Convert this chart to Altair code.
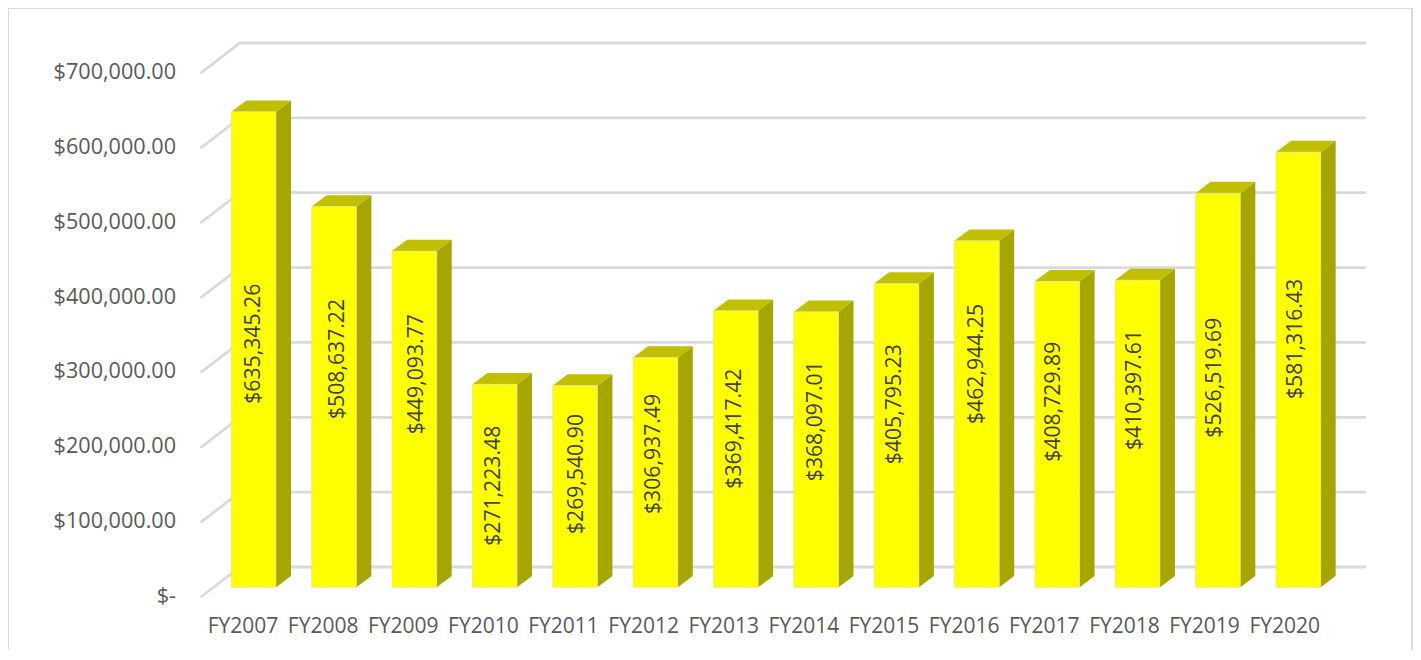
import altair as alt
import pandas as pd

years = ["FY2007","FY2008","FY2009","FY2010","FY2011","FY2012","FY2013",
         "FY2014","FY2015","FY2016","FY2017","FY2018","FY2019","FY2020"]
values = [635345.26,508637.22,449093.77,271223.48,269540.90,306937.49,369417.42,
          368097.01,405795.23,462944.25,408729.89,410397.61,526519.69,581316.43]
# where each rotated value label sits (the original labels are placed by hand)
label_at = [325400,305000,284700,135600,151300,178100,211900,
            221900,244600,298300,247900,263600,280000,331700]
label_nudge = [0.3,3.5,3,-0.3,2,-1,-0.7,-0.5,-1.4,0.3,-2.8,-2.5,-2.6,-2]
grid_values = [0,100000,200000,300000,400000,500000,600000,700000]

# projection geometry (pixels per unit), converted to data units
PX_X = 80.36
PX_Y = 74.86 / 100000
X0, Y0 = 231.3, 587.3            # page pixel of index 0 / value 0
L, T, R, B = 190, 30, 1400, 610  # plot rectangle on the page
TOTAL_R, TOTAL_B = 1413, 650

def ux(p): return p / PX_X
def uy(p): return p / PX_Y

BAR_W = ux(44.7)
DX, DY = ux(15), uy(11.3)

x_scale = alt.Scale(domain=[ux(L - X0), ux(R - X0)], nice=False, zero=False)
y_scale = alt.Scale(domain=[uy(Y0 - B), uy(Y0 - T)], nice=False, zero=False)

front, side, top, grid = [], [], [], []
for i, (n, v, la, nu) in enumerate(zip(years, values, label_at, label_nudge)):
    r = i + BAR_W
    front.append(dict(i=i, n=n, v=v, x=i, x2=r, y=v, y2=0, ly=la,
                      lx=i + BAR_W / 2 + ux(nu), t=f"${v:,.2f}"))
    side += [dict(n=n, x=r, y=v, y2=0), dict(n=n, x=r + DX, y=v + DY, y2=DY)]
    top += [dict(n=n, y=v, x=i, x2=r), dict(n=n, y=v + DY, x=i + DX, x2=r + DX)]
for g in grid_values:
    grid += [dict(g=g, o=0, x=ux(201.5 - X0), y=g - uy(9.2)),
             dict(g=g, o=1, x=ux(240 - X0), y=g + uy(20.3)),
             dict(g=g, o=2, x=ux(1365 - X0), y=g + uy(20.3))]

TICK_RATIO = 80.13 / PX_X
TICK_OFF = ux(11.2)
tick_vals = [TICK_OFF + i * TICK_RATIO for i in range(len(years))]
names_js = "[" + ",".join(f"'{n}'" for n in years) + "]"

FONT = "Open Sans"
TXT = "#595959"
GRID = "#dadada"

x_axis = alt.Axis(
    values=tick_vals, grid=False, domain=False, ticks=False, title=None,
    labelExpr=f"{names_js}[round((datum.value-{TICK_OFF})/{TICK_RATIO})]",
    labelFont=FONT, labelFontSize=21, labelColor=TXT, labelPadding=5,
    labelOverlap=False, labelBound=False, labelFlush=False, labelAngle=0)
y_axis = alt.Axis(
    values=grid_values, grid=False, domain=False, ticks=False, title=None,
    labelExpr="datum.value === 0 ? '$-' : format(datum.value, '$,.2f')",
    labelFont=FONT, labelFontSize=21.6, labelColor=TXT, labelPadding=14.5,
    labelOffset=9.2, labelOverlap=False, labelBound=False, labelFlush=False)

xq = lambda f="x": alt.X(f"{f}:Q", scale=x_scale, axis=x_axis)
yq = lambda f="y": alt.Y(f"{f}:Q", scale=y_scale, axis=y_axis)

grid_m = alt.Chart(pd.DataFrame(grid)).mark_line(
    color=GRID, strokeWidth=2.8, strokeCap="round", strokeJoin="round", clip=False
).encode(x=xq(), y=yq(), detail="g:N", order="o:Q")
side_m = alt.Chart(pd.DataFrame(side)).mark_area(color="#a6a600", opacity=1, clip=False).encode(
    x=xq(), y=yq(), y2="y2:Q", detail="n:N")
top_m = alt.Chart(pd.DataFrame(top)).mark_area(color="#c0c000", opacity=1, orient="horizontal", clip=False).encode(
    y=yq(), x=xq(), x2="x2:Q", detail="n:N")
front_m = alt.Chart(pd.DataFrame(front)).mark_rect(
    color="#ffff00", stroke="#dcdcb8", strokeWidth=0.6, clip=False
).encode(x=xq(), x2="x2:Q", y=yq(), y2="y2:Q")
labels = alt.Chart(pd.DataFrame(front)).mark_text(
    font=FONT, fontSize=21.2, color="#404040", angle=270,
    align="center", baseline="middle", clip=False
).encode(x=xq("lx"), y=yq("ly"), text="t:N")

border = pd.DataFrame({"k": ["a"]})
bl = alt.Chart(border).mark_rule(color=GRID, strokeWidth=2).encode(
    x=alt.value(8 - L), y=alt.value(8 - T), y2=alt.value(TOTAL_B - T))
br = alt.Chart(border).mark_rule(color=GRID, strokeWidth=2).encode(
    x=alt.value(TOTAL_R - 1 - L), y=alt.value(8 - T), y2=alt.value(TOTAL_B - T))
bt = alt.Chart(border).mark_rule(color=GRID, strokeWidth=2).encode(
    x=alt.value(8 - L), x2=alt.value(TOTAL_R - 1 - L), y=alt.value(8 - T))

chart = alt.layer(bl, br, bt, grid_m, side_m, top_m, front_m, labels).properties(
    width=R - L, height=B - T,
    autosize=alt.AutoSizeParams(type="none"),
    padding={"left": L - 8, "top": T - 8, "right": TOTAL_R - R, "bottom": TOTAL_B - B},
    background="white",
).configure_view(stroke=None)

chart.save("out.html", embed_options={"renderer": "svg", "actions": False})
